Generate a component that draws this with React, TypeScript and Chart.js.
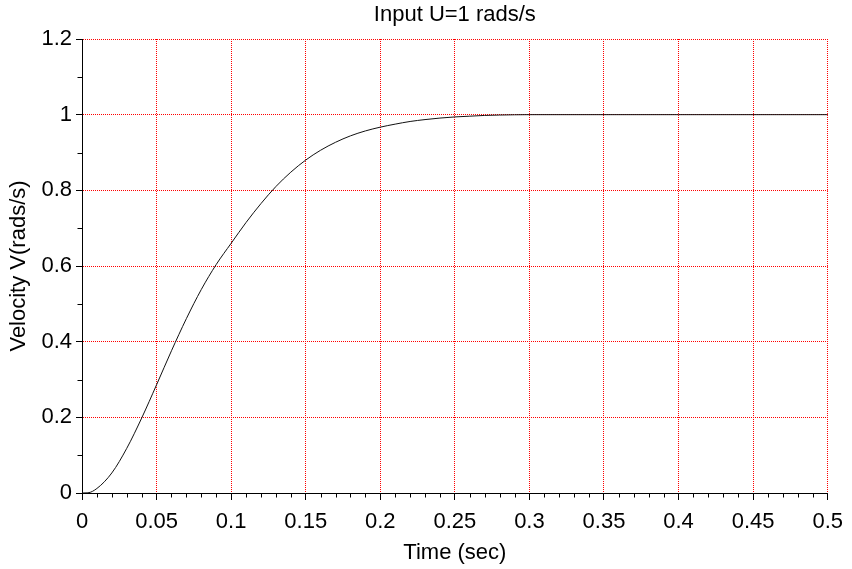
import React, { useEffect, useRef } from "react";
import { Chart, registerables } from "chart.js";

Chart.register(...registerables);

// Step response of the motor speed loop
const timeSec: number[] = [
  0, 0.004, 0.01, 0.02, 0.03, 0.04, 0.05, 0.06, 0.07, 0.08, 0.09, 0.1, 0.11, 0.12, 0.13, 0.14,
  0.15, 0.16, 0.17, 0.18, 0.19, 0.2, 0.21, 0.22, 0.23, 0.24, 0.25, 0.26, 0.27, 0.28, 0.3, 0.35,
  0.4, 0.45, 0.5,
];
const velocity: number[] = [
  0, 0.0005, 0.012, 0.053, 0.118, 0.198, 0.286, 0.376, 0.461, 0.538, 0.604, 0.66, 0.715, 0.765,
  0.81, 0.848, 0.88, 0.906, 0.927, 0.944, 0.957, 0.967, 0.975, 0.982, 0.987, 0.991, 0.994, 0.996,
  0.998, 0.999, 1.0, 1.0, 1.0, 1.0, 1.0,
];

const xTicks: number[] = [0, 0.05, 0.1, 0.15, 0.2, 0.25, 0.3, 0.35, 0.4, 0.45, 0.5];
const yTicks: number[] = [0, 0.2, 0.4, 0.6, 0.8, 1, 1.2];
const xMinorStep = 0.01;
const yMinorStep = 0.1;

const FONT = "'Liberation Sans', Arial, Helvetica, sans-serif";
const GRID_RED = "#ff0000";

// Short minor tick marks along the left and bottom axes
const minorTicks = {
  id: "minorTicks",
  afterDraw(chart: any) {
    const { ctx, chartArea, scales } = chart;
    const xs = scales.x;
    const ys = scales.y;
    ctx.save();
    ctx.strokeStyle = "#000";
    ctx.lineWidth = 1;
    ctx.setLineDash([]);
    ctx.beginPath();
    for (let i = 1; i < 50; i++) {
      if (i % 5 === 0) continue;
      const px = Math.round(xs.getPixelForValue(i * xMinorStep)) + 0.5;
      const py = Math.round(chartArea.bottom) + 0.5;
      ctx.moveTo(px, py);
      ctx.lineTo(px, py + 4);
    }
    for (let j = 1; j < 12; j++) {
      if (j % 2 === 0) continue;
      const py = Math.round(ys.getPixelForValue(j * yMinorStep)) + 0.5;
      const px = Math.round(chartArea.left) + 0.5;
      ctx.moveTo(px, py);
      ctx.lineTo(px - 5, py);
    }
    ctx.stroke();
    ctx.restore();
  },
};

export default function App() {
  const canvasRef = useRef<HTMLCanvasElement | null>(null);

  useEffect(() => {
    if (!canvasRef.current) return;
    const points = timeSec.map((t, i) => ({ x: t, y: velocity[i] }));
    const chart = new Chart(canvasRef.current, {
      type: "line",
      data: {
        datasets: [
          {
            data: points,
            borderColor: "#111",
            borderWidth: 1,
            pointRadius: 0,
            cubicInterpolationMode: "monotone",
            fill: false,
          },
        ],
      },
      options: {
        responsive: false,
        animation: false,
        events: [],
        layout: { padding: { left: 0, right: 17, top: 0, bottom: 0 } },
        plugins: {
          legend: { display: false },
          tooltip: { enabled: false },
          title: {
            display: true,
            text: "Input U=1 rads/s",
            color: "#000",
            fullSize: false,
            font: { family: FONT, size: 22, weight: "normal" },
            padding: { top: 2, bottom: 10.6 },
          },
        },
        scales: {
          x: {
            type: "linear",
            min: 0,
            max: 0.5,
            afterBuildTicks: (scale: any) => {
              scale.ticks = xTicks.map((v) => ({ value: v }));
            },
            afterFit: (scale: any) => {
              scale.height = 76;
            },
            ticks: {
              autoSkip: false,
              maxRotation: 0,
              padding: 9,
              color: "#000",
              font: { family: FONT, size: 22 },
              callback: (v: any) => String(Number(Number(v).toFixed(2))),
            },
            grid: {
              color: GRID_RED,
              lineWidth: 1,
              tickColor: "#000",
              tickWidth: 1,
              tickLength: 7,
              tickBorderDash: [],
            },
            border: { display: true, color: "#000", width: 1, dash: [1, 1] },
            title: {
              display: true,
              text: "Time (sec)",
              color: "#000",
              font: { family: FONT, size: 22 },
              padding: { top: 0, bottom: 3 },
            },
          },
          y: {
            type: "linear",
            min: 0,
            max: 1.2,
            afterBuildTicks: (scale: any) => {
              scale.ticks = yTicks.map((v) => ({ value: v }));
            },
            afterFit: (scale: any) => {
              scale.width = 82;
            },
            ticks: {
              autoSkip: false,
              padding: 4,
              color: "#000",
              font: { family: FONT, size: 22 },
              callback: (v: any) => String(Number(Number(v).toFixed(1))),
            },
            grid: {
              color: GRID_RED,
              lineWidth: 1,
              tickColor: "#000",
              tickWidth: 1,
              tickLength: 6,
              tickBorderDash: [],
            },
            border: { display: true, color: "#000", width: 1, dash: [1, 1] },
            title: {
              display: true,
              text: "Velocity V(rads/s)",
              color: "#000",
              font: { family: FONT, size: 22 },
              padding: { top: 6, bottom: 0 },
            },
          },
        },
      },
      plugins: [minorTicks],
    } as any);
    return () => chart.destroy();
  }, []);

  return (
    <div style={{ position: "fixed", left: 0, top: 0, width: 852, height: 569, background: "#fff" }}>
      <canvas ref={canvasRef} width={852} height={569} style={{ display: "block" }} />
    </div>
  );
}
